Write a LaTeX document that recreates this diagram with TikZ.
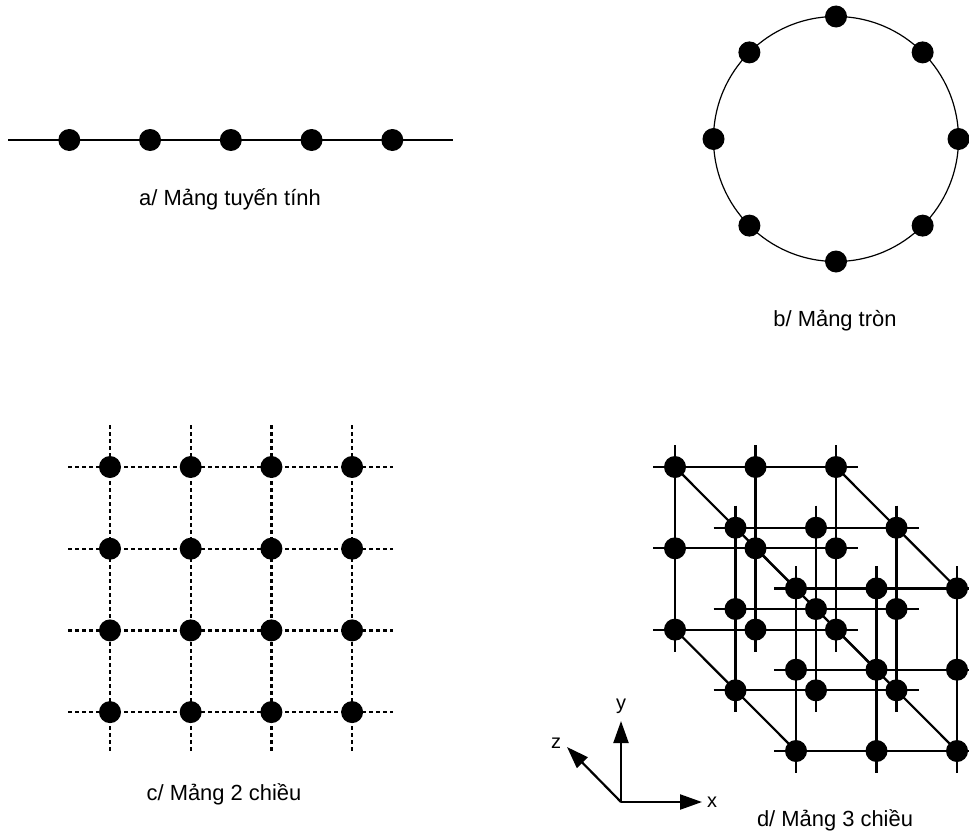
\documentclass[tikz,border=0pt]{standalone}
\usepackage{fontspec}
\setmainfont{Liberation Sans}
\usetikzlibrary{arrows.meta,positioning,calc,backgrounds}

\begin{document}
\begin{tikzpicture}[x=1bp,y=-1bp,
  dot/.style={circle,fill=black,inner sep=0pt,minimum size=22bp},
  wire/.style={line width=2.2bp},
  dashwire/.style={line width=2.2bp,dash pattern=on 4bp off 3bp},
  caption/.style={anchor=base,font=\fontsize{22}{26}\selectfont},
  axlabel/.style={inner sep=0pt,font=\fontsize{20}{24}\selectfont},
  axis/.style={line width=2.2bp,-{Triangle[length=22bp,width=15bp]}}]
\useasboundingbox (0,0) rectangle (969,834);

% a/ linear
\foreach \i in {1,...,5}
  \node[dot] (lin\i) at ({69.3+80.75*(\i-1)},140) {};
\coordinate (lin-w) at (8,140);
\coordinate (lin-e) at (453,140);
\node[caption] (cap-a) at (230,205) {a/ Mảng tuyến tính};

% b/ ring
\coordinate (ring-c) at (836,139);
\foreach \a in {0,45,...,315}
  \node[dot] (ring\a) at ($(ring-c)+(\a:122.5)$) {};
\node[caption] (cap-b) at (835,326) {b/ Mảng tròn};

% c/ 2D mesh
\foreach \i in {0,...,3}
  \foreach \j in {0,...,3}
    \node[dot] (sq-\i-\j) at ({110+80.7*\i},{467+81.7*\j}) {};
\node[caption] (cap-c) at (224,800) {c/ Mảng 2 chiều};

% d/ 3D mesh
\foreach \k in {0,1,2}
  \foreach \i in {0,1,2}
    \foreach \j in {0,1,2}
      \node[dot] (cb-\k-\i-\j) at ({675+60.5*\k+80.5*\i},{467+60.7*\k+81.3*\j}) {};
\node[caption] (cap-d) at (835,826) {d/ Mảng 3 chiều};

% axes
\coordinate (ax-o) at (621,802);
\coordinate (ax-xtip) at (702,802);
\coordinate (ax-ytip) at (621,721);
\coordinate (ax-ztip) at (567,747);
\node[axlabel] (ax-x) at (712,802) {x};
\node[axlabel] (ax-y) at (621,706) {y};
\node[axlabel] (ax-z) at (556,743) {z};
\draw[axis] (ax-o) -- (ax-xtip);
\draw[axis] (ax-o) -- (ax-ytip);
\draw[axis] (ax-o) -- (ax-ztip);

\begin{scope}[on background layer]
\draw[wire] (lin-w) -- (lin-e);
\draw[line width=1.2bp] (ring-c) circle[radius=122.5];
\foreach \k in {0,...,3} {
  \draw[dashwire,shorten <=-42bp,shorten >=-41bp] (sq-0-\k.center) -- (sq-3-\k.center);
  \draw[dashwire,shorten <=-42bp,shorten >=-41bp] (sq-\k-0.center) -- (sq-\k-3.center);
}
\foreach \k in {0,1,2}
  \foreach \m in {0,1,2} {
    \draw[wire,shorten <=-22bp,shorten >=-22bp] (cb-\k-0-\m.center) -- (cb-\k-2-\m.center);
    \draw[wire,shorten <=-22bp,shorten >=-22bp] (cb-\k-\m-0.center) -- (cb-\k-\m-2.center);
  }
\foreach \i/\j in {0/0,2/0,0/2,2/2,1/1}
  \draw[wire] (cb-0-\i-\j.center) -- (cb-1-\i-\j.center) -- (cb-2-\i-\j.center);
\end{scope}
\end{tikzpicture}
\end{document}
